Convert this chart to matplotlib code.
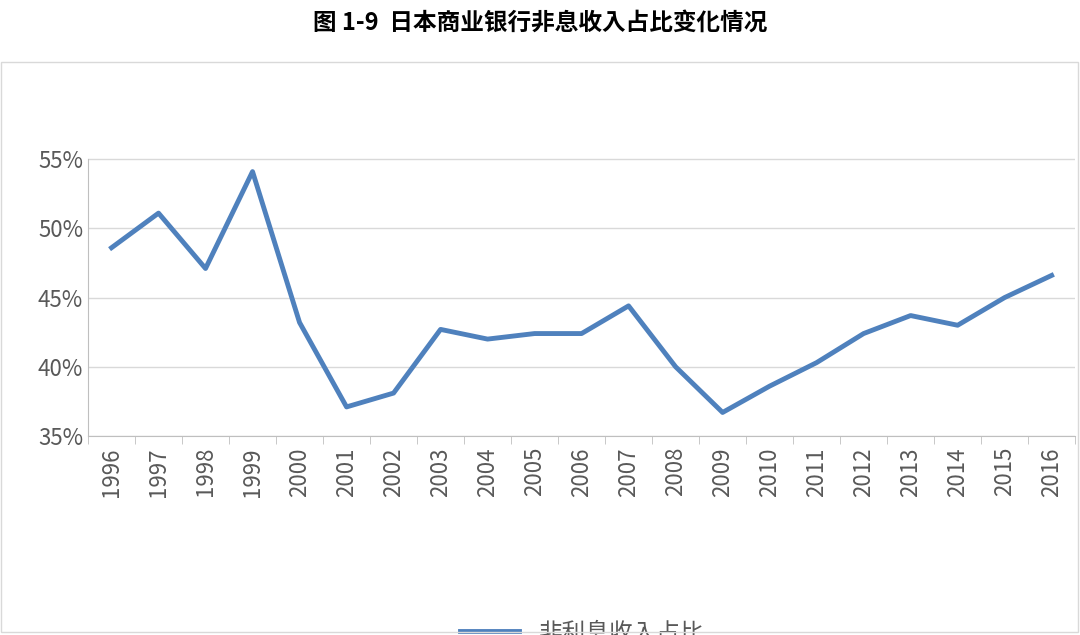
import matplotlib
matplotlib.use('Agg')
import matplotlib.pyplot as plt
from matplotlib.patches import Rectangle
import numpy as np

plt.rcParams['font.family'] = 'sans-serif'
plt.rcParams['font.sans-serif'] = ['Noto Sans CJK SC', 'Noto Sans CJK JP', 'DejaVu Sans']

years = [str(y) for y in range(1996, 2017)]
ratio = [48.6, 51.1, 47.1, 54.1, 43.2, 37.1, 38.1, 42.7, 42.0, 42.4, 42.4,
         44.4, 40.0, 36.7, 38.6, 40.3, 42.4, 43.7, 43.0, 45.0, 46.6]
yticks = [35, 40, 45, 50, 55]
ytick_labels = ['35%', '40%', '45%', '50%', '55%']

fig = plt.figure(figsize=(10.8, 6.35), dpi=100)
fig.patches.append(Rectangle((0.001, 0.005), 0.997, 0.897, transform=fig.transFigure,
                             fill=False, edgecolor='#d9d9d9', linewidth=1))
fig.text(0.5, 0.965, '图 1-9  日本商业银行非息收入占比变化情况', ha='center', va='center',
         fontsize=17, fontweight='bold')

ax = fig.add_axes([0.0815, 0.3134, 0.914, 0.545])
x = np.arange(len(years))
ax.plot(x, ratio, color='#4f81bd', linewidth=3.5, label='非利息收入占比')
ax.set_xlim(-0.5, len(years) - 0.5)
ax.set_ylim(35, 60)
ax.set_yticks(yticks)
ax.set_yticklabels(ytick_labels, fontsize=16, color='#595959')
ax.set_xticks(x)
ax.set_xticklabels(years, rotation=90, fontsize=16, color='#595959')
ax.tick_params(axis='x', which='major', length=0, pad=8)
ax.set_xticks(np.arange(-0.5, len(years), 1), minor=True)
ax.tick_params(axis='x', which='minor', length=6, color='#bfbfbf')
ax.tick_params(axis='y', length=0)
ax.grid(axis='y', color='#d9d9d9', linewidth=1)
ax.set_axisbelow(True)
for s in ['top', 'right']:
    ax.spines[s].set_visible(False)
ax.spines['left'].set_color('#bfbfbf')
ax.spines['left'].set_bounds(35, 55)
ax.spines['bottom'].set_color('#bfbfbf')
ax.legend(loc='center', bbox_to_anchor=(0.5, -0.57), frameon=False, fontsize=17,
          labelcolor='#595959', handlelength=2.5)

fig.savefig('out.png', dpi=100)
